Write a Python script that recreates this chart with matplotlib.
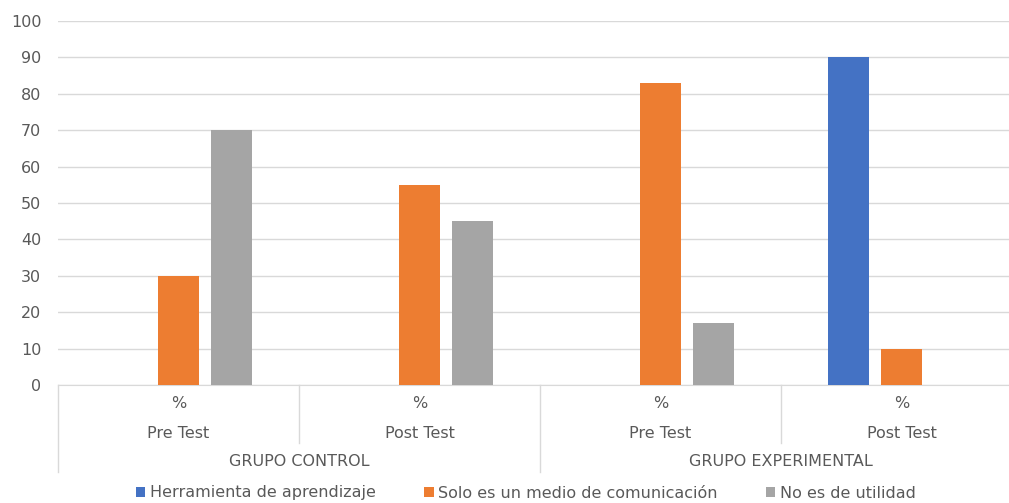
import numpy as np
import matplotlib.pyplot as plt
import matplotlib.transforms as mtransforms

plt.rcParams['font.family'] = ['DejaVu Sans']

grupos = ["GRUPO CONTROL", "GRUPO EXPERIMENTAL"]
momentos = ["Pre Test", "Post Test", "Pre Test", "Post Test"]
series = ["Herramienta de aprendizaje", "Solo es un medio de comunicación", "No es de utilidad"]
herramienta = [0, 0, 0, 90]
solo_medio = [30, 55, 83, 10]
no_utilidad = [70, 45, 17, 0]
colores = ["#4472C4", "#ED7D31", "#A5A5A5"]

W, H = 1009, 503
fig = plt.figure(figsize=(W / 100, H / 100), dpi=100)
ax = fig.add_axes([58 / W, 118 / H, 964 / W, 364 / H])

x = np.arange(len(momentos))
ancho = 0.174
paso = 0.22
for i, (vals, nombre) in enumerate(zip([herramienta, solo_medio, no_utilidad], series)):
    ax.bar(x + (i - 1) * paso, vals, ancho, color=colores[i], label=nombre, zorder=3)

ax.set_xlim(-0.5, len(momentos) - 0.5)
ax.set_ylim(0, 100)
ax.set_yticks(range(0, 101, 10))
ax.grid(axis='y', color='#d9d9d9', linewidth=1, zorder=0)
for s in ['top', 'right', 'left']:
    ax.spines[s].set_visible(False)
ax.spines['bottom'].set_color('#d9d9d9')
ax.set_xticks([])
fs = 11.5
gris = '#595959'
ax.tick_params(axis='y', length=0, pad=12, labelsize=fs, labelcolor=gris)

trans = mtransforms.blended_transform_factory(ax.transData, ax.transAxes)
px = 1 / 364.0
for i, m in enumerate(momentos):
    ax.text(i, -19 * px, "%", transform=trans, ha='center', va='center', fontsize=fs, color=gris)
    ax.text(i, -48 * px, m, transform=trans, ha='center', va='center', fontsize=fs, color=gris)
for j, g in enumerate(grupos):
    ax.text(2 * j + 0.5, -77 * px, g, transform=trans, ha='center', va='center', fontsize=fs, color=gris)

# separadores del eje de categorias
for b in [0.5, 2.5]:
    ax.plot([b, b], [0, -58 * px], transform=trans, color='#d9d9d9', lw=1, clip_on=False)
for b in [-0.5, 1.5, 3.5]:
    ax.plot([b, b], [0, -87 * px], transform=trans, color='#d9d9d9', lw=1, clip_on=False)

fig.legend(loc='center', bbox_to_anchor=(526 / W, 10 / H), ncol=3, frameon=False,
           fontsize=fs, labelcolor=gris, handlelength=0.6, handleheight=0.6,
           handletextpad=0.3, columnspacing=3.0)

fig.savefig('out.png', dpi=100)
